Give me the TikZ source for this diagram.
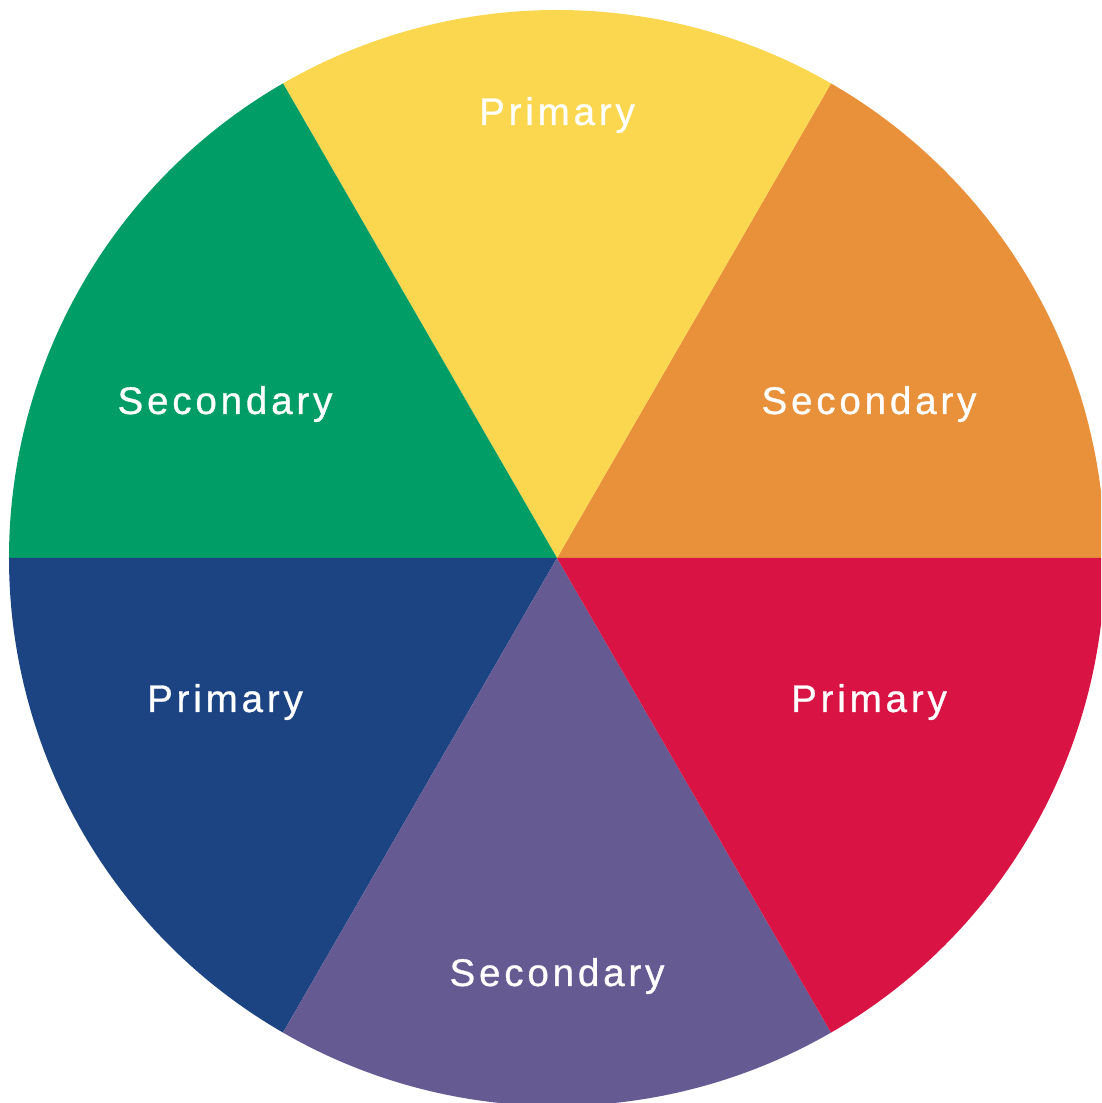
\documentclass[tikz,border=0pt]{standalone}
\usepackage{fontspec}
\setmainfont{Liberation Sans}[LetterSpace=10,FakeBold=0.8]
\definecolor{cyellow}{HTML}{FAD74E}
\definecolor{corange}{HTML}{E8913A}
\definecolor{cred}{HTML}{D91344}
\definecolor{cpurple}{HTML}{665A92}
\definecolor{cblue}{HTML}{1C4483}
\definecolor{cgreen}{HTML}{009E66}
\tikzset{
  lbl/.style={text=white, font=\fontsize{38.5}{40}\selectfont, anchor=base, inner sep=0pt}
}
\begin{document}
\begin{tikzpicture}[x=1pt,y=1pt]
\useasboundingbox (0,0) rectangle (1101,1103);
\clip (0,0) rectangle (1101,1103);
\coordinate (c) at (557,545);
\def\R{548}
\fill[corange] (c) -- ++(0:\R) arc (0:60:\R) -- cycle;
\fill[cyellow] (c) -- ++(60:\R) arc (60:120:\R) -- cycle;
\fill[cgreen] (c) -- ++(120:\R) arc (120:180:\R) -- cycle;
\fill[cblue] (c) -- ++(180:\R) arc (180:240:\R) -- cycle;
\fill[cpurple] (c) -- ++(240:\R) arc (240:300:\R) -- cycle;
\fill[cred] (c) -- ++(300:\R) arc (300:360:\R) -- cycle;
\node[lbl] (p1) at (557,978) {Primary};
\node[lbl] (s1) at (225,689) {Secondary};
\node[lbl] (s2) at (869,689) {Secondary};
\node[lbl] (p2) at (225,391) {Primary};
\node[lbl] (p3) at (869,391) {Primary};
\node[lbl] (s3) at (557,117) {Secondary};
\end{tikzpicture}
\end{document}
